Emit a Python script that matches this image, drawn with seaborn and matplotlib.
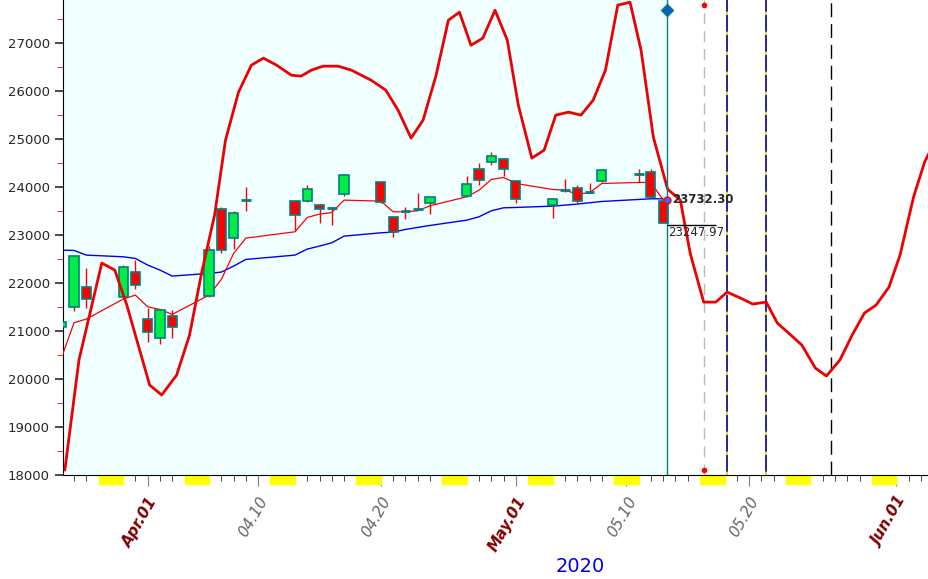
import numpy as np
import pandas as pd
import matplotlib
import matplotlib.pyplot as plt
import seaborn as sns

matplotlib.use('Agg')

# x = days from Apr 1 2020
candle_day = [-7, -6, -5, -2, -1, 0, 1, 2, 5, 6, 7, 8, 12, 13, 14, 15, 16,
              19, 20, 21, 22, 23, 26, 27, 28, 29, 30, 33, 34, 35, 36, 37, 40, 41, 42]
opens = [21077, 21493, 21910, 21701, 22222, 21243, 20847, 21306, 21722, 23535, 22930, 23722, 23701,
         23715, 23618, 23556, 23847, 24097, 23368, 23493, 23549, 23660, 23806, 24368, 24514, 24590,
         24118, 23625, 23937, 23986, 23889, 24132, 24264, 24306, 23708]
closes = [21194, 22556, 21660, 22326, 21951, 20972, 21430, 21077, 22681, 22687, 23451, 23722, 23410,
          23951, 23535, 23556, 24243, 23681, 23062, 23493, 23549, 23785, 24056, 24139, 24646, 24368,
          23743, 23757, 23937, 23708, 23889, 24347, 24264, 23799, 23248]
highs = [21200, 22583, 22319, 22368, 22479, 21486, 21440, 21430, 22771, 23590, 23500, 23993, 23701,
         24041, 23640, 23590, 24243, 24100, 23368, 23590, 23868, 23800, 24222, 24507, 24736, 24600,
         24140, 23757, 24160, 24035, 24076, 24347, 24368, 24368, 23720]
lows = [21070, 21423, 21472, 21680, 21868, 20778, 20736, 20861, 21700, 22632, 22701, 23507, 23090,
        23700, 23243, 23215, 23820, 23660, 22951, 23340, 23520, 23431, 23785, 24041, 24458, 24222,
        23660, 23361, 23890, 23674, 23870, 24111, 24111, 23780, 23280]

ma_fast = [20460, 21173, 21250, 21666, 21750, 21506, 21451, 21347, 21750, 22076, 22618, 22937, 23069,
           23368, 23437, 23472, 23729, 23708, 23486, 23486, 23507, 23611, 23799, 23937, 24160, 24201,
           24076, 23951, 23937, 23854, 23882, 24076, 24097, 24097, 23732]
ma_slow = [22687, 22680, 22583, 22548, 22514, 22375, 22271, 22146, 22202, 22229, 22354, 22493, 22583,
           22708, 22771, 22840, 22979, 23048, 23062, 23118, 23160, 23201, 23312, 23382, 23507, 23569,
           23576, 23604, 23625, 23646, 23674, 23701, 23743, 23757, 23757]

cycle_day = [-6.75, -5.6, -3.74, -2.68, -1.7, 0.16, 1.14, 2.36, 3.41, 4.39, 5.45, 6.34, 7.4, 8.45,
             9.43, 10.5, 11.7, 12.5, 13.33, 14.3, 15.5, 16.6, 18.2, 19.4, 20.4, 21.46, 22.44, 23.5,
             24.5, 25.4, 26.34, 27.3, 28.3, 29.3, 30.2, 31.3, 32.3, 33.25, 34.3, 35.3, 36.3, 37.3,
             38.3, 39.3, 40.2, 41.2, 42.36, 43.4, 44.2, 45.3, 46.3, 47.2, 48.3, 49.3, 50.4, 51.3,
             52.4, 53.3, 54.4, 55.3, 56.4, 57.4, 58.4, 59.35, 60.4, 61.3, 62.4, 63.3, 63.66]
cycle_val = [18104, 20396, 22417, 22271, 21542, 19875, 19667, 20083, 20917, 22208, 23417, 24979,
             25979, 26542, 26688, 26542, 26333, 26313, 26438, 26521, 26521, 26438, 26229, 26021,
             25604, 25021, 25396, 26333, 27479, 27646, 26958, 27104, 27688, 27063, 25708, 24604,
             24771, 25500, 25563, 25500, 25813, 26438, 27792, 27854, 26854, 25042, 23958, 23729,
             22625, 21604, 21604, 21813, 21688, 21563, 21604, 21167, 20917, 20708, 20229, 20063,
             20396, 20917, 21375, 21542, 21917, 22583, 23792, 24521, 24708]

weekend_start = [-4, 3, 10, 17, 24, 31, 38, 45, 52, 59]
tick_days = [0, 9, 19, 30, 39, 49, 61]
tick_labels = ['Apr.01', '04.10', '04.20', 'May.01', '05.10', '05.20', 'Jun.01']

sns.set_style("white")
plt.rcParams['font.family'] = ['DejaVu Sans']

fig = plt.figure(figsize=(9.29, 5.79), dpi=100)
ax = fig.add_axes([63 / 929, 104 / 579, 866 / 929, 475 / 579])
x0, x1 = -6.9, 63.66
ax.set_xlim(x0, x1)
ax.set_ylim(18000, 27900)
ax.axvspan(x0, candle_day[-1] + 0.3, color='#f0ffff', zorder=0)

# moving averages and cycle curve
sns.lineplot(x=candle_day, y=ma_slow, color='#0000ee', lw=1, ax=ax, zorder=3)
sns.lineplot(x=candle_day, y=ma_fast, color='red', lw=0.9, ax=ax, zorder=3)
sns.lineplot(x=cycle_day, y=cycle_val, color='#ee0000', lw=2, ax=ax, zorder=6)

# candles
df = pd.DataFrame(dict(d=candle_day, o=opens, c=closes, h=highs, l=lows))
for r in df.itertuples():
    ax.vlines(r.d, r.l, r.h, color='red', lw=1, zorder=4)
    if r.o == r.c:
        ax.hlines(r.o, r.d - 0.4, r.d + 0.4, color='#008080', lw=2, zorder=5)
    else:
        col = '#00ee44' if r.c > r.o else '#ff0000'
        ax.bar(r.d, abs(r.c - r.o), bottom=min(r.o, r.c), width=0.75, color=col,
               edgecolor='#008080', lw=1.2, zorder=5)

# vertical markers
last = candle_day[-1] + 0.3
ax.axvline(last, color='#008080', lw=1, zorder=7)
ax.plot([last], [27700], marker='D', color='#1060c0', ms=6, mec='#008080', zorder=8, clip_on=False)
ax.axvline(45.3, color='#bbbbbb', lw=1, ls=(0, (8, 5)), zorder=2)
ax.plot([45.3, 45.3], [27800, 18100], 'o', color='red', ms=3, zorder=8)
for xv in [47.2, 50.4]:
    ax.axvline(xv, color='#000080', lw=1.2, zorder=2)
    ax.axvline(xv, color='yellow', lw=1.2, ls=(0, (2, 10)), zorder=2)
ax.axvline(55.7, color='black', lw=1, ls=(0, (10, 5)), zorder=2)

ax.plot([last], [ma_fast[-1]], 'o', ms=5, mfc='#4060ff', mec='red', zorder=9)
ax.text(last + 0.4, ma_fast[-1], '23732.30', fontsize=8.5, fontweight='bold', va='center', zorder=9)
ax.hlines(closes[-1] - 30, last, last + 4, color='black', lw=1, zorder=9)
ax.text(last + 0.1, closes[-1] - 60, '23247.97', fontsize=8.5, va='top', zorder=9)

# weekend boxes under the axis
for w in weekend_start:
    ax.add_patch(plt.Rectangle((w, -0.018), 2, 0.018, transform=ax.get_xaxis_transform(),
                               color='yellow', clip_on=False))

ax.set_yticks(range(18000, 27001, 1000))
ax.set_yticks(range(18500, 27900, 1000), minor=True)
ax.tick_params(axis='y', which='major', length=6, width=1.2, labelsize=9.5, direction='out', left=True)
ax.tick_params(axis='y', which='minor', length=4, color='red', left=True)
ax.set_xticks(tick_days)
ax.set_xticks(np.arange(-6, 64), minor=True)
ax.tick_params(axis='x', which='minor', length=4, bottom=True)
ax.tick_params(axis='x', which='major', length=8, colors='gray', bottom=True, pad=6)
ax.set_xticklabels(tick_labels, rotation=60, ha='right', rotation_mode='anchor', fontsize=11,
                   style='italic')
for lab in ax.get_xticklabels():
    if '.0' in lab.get_text() and lab.get_text()[0].isalpha():
        lab.set_color('#800000')
        lab.set_fontweight('bold')
    else:
        lab.set_color('#666666')
ax.text(0.597, -0.172, '2020', transform=ax.transAxes, color='#0000ee', fontsize=14, ha='center',
        va='top')

for s in ['top', 'right']:
    ax.spines[s].set_visible(False)
ax.spines['left'].set_color('black')
ax.spines['bottom'].set_color('black')
ax.set_xlabel('')
ax.set_ylabel('')
plt.savefig('out.png', dpi=100)
